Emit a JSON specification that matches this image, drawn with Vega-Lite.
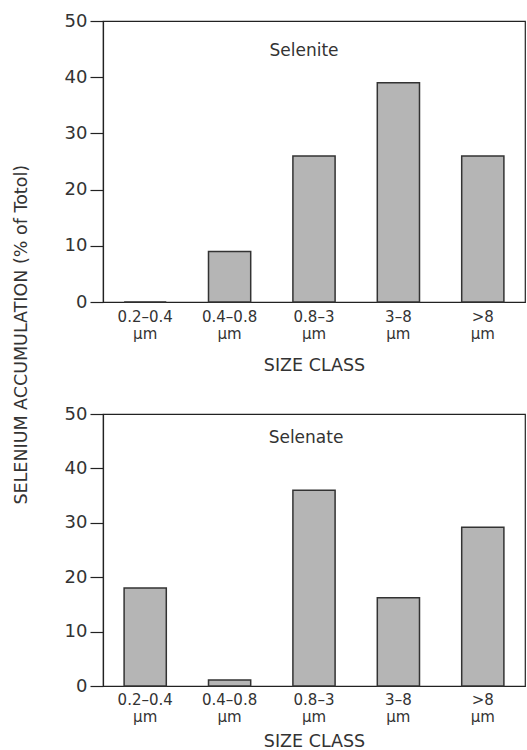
{
  "$schema": "https://vega.github.io/schema/vega-lite/v6.json",
  "background": "white",
  "padding": {"left": 12, "top": 11, "right": 0, "bottom": 0},
  "title": {"text": "SELENIUM ACCUMULATION (% of Totol)", "orient": "left", "anchor": "middle", "fontSize": 17.5, "fontWeight": "normal", "font": "DejaVu Sans", "color": "#333", "offset": 33, "dx": 46},
  "datasets": {
    "selenite": [
      {"size": "0.2–0.4", "value": 0},
      {"size": "0.4–0.8", "value": 9},
      {"size": "0.8–3", "value": 26},
      {"size": "3–8", "value": 39},
      {"size": ">8", "value": 26}
    ],
    "selenate": [
      {"size": "0.2–0.4", "value": 18},
      {"size": "0.4–0.8", "value": 1.1},
      {"size": "0.8–3", "value": 36},
      {"size": "3–8", "value": 16.2},
      {"size": ">8", "value": 29.2}
    ]
  },
  "config": {
    "font": "DejaVu Sans",
    "view": {"stroke": "#222", "strokeWidth": 1.2},
    "axis": {
      "domainColor": "#222", "domainWidth": 1.2, "tickColor": "#222", "tickWidth": 1.2,
      "labelColor": "#333", "titleColor": "#333", "labelFont": "DejaVu Sans", "titleFont": "DejaVu Sans",
      "titleFontWeight": "normal", "grid": false
    },
    "axisY": {"labelFontSize": 18, "tickSize": 13, "labelPadding": 3},
    "axisX": {"labelFontSize": 15, "titleFontSize": 17.5, "ticks": false, "labelPadding": 7, "labelLineHeight": 17, "titlePadding": 15, "labelAngle": 0}
  },
  "spacing": 29,
  "vconcat": [
    {
      "width": 422, "height": 281,
      "title": {"text": "Selenite", "baseline": "top", "offset": -48, "dx": -10, "fontSize": 17, "fontWeight": "normal", "color": "#333"},
      "data": {"name": "selenite"},
      "mark": {"type": "bar", "fill": "#b5b5b5", "stroke": "#333", "strokeWidth": 1.5},
      "encoding": {
        "x": {"field": "size", "type": "nominal", "sort": null, "scale": {"paddingInner": 0.5, "paddingOuter": 0.25}, "axis": {"labelExpr": "[datum.label, 'µm']", "title": "SIZE CLASS"}},
        "y": {"field": "value", "type": "quantitative", "scale": {"domain": [0, 50]}, "axis": {"values": [0, 10, 20, 30, 40, 50], "title": null}}
      }
    },
    {
      "width": 422, "height": 272,
      "title": {"text": "Selenate", "baseline": "top", "offset": -42, "dx": -8, "fontSize": 17, "fontWeight": "normal", "color": "#333"},
      "data": {"name": "selenate"},
      "mark": {"type": "bar", "fill": "#b5b5b5", "stroke": "#333", "strokeWidth": 1.5},
      "encoding": {
        "x": {"field": "size", "type": "nominal", "sort": null, "scale": {"paddingInner": 0.5, "paddingOuter": 0.25}, "axis": {"labelExpr": "[datum.label, 'µm']", "title": "SIZE CLASS", "titlePadding": 8, "labelPadding": 6}},
        "y": {"field": "value", "type": "quantitative", "scale": {"domain": [0, 50]}, "axis": {"values": [0, 10, 20, 30, 40, 50], "title": null}}
      }
    }
  ]
}
